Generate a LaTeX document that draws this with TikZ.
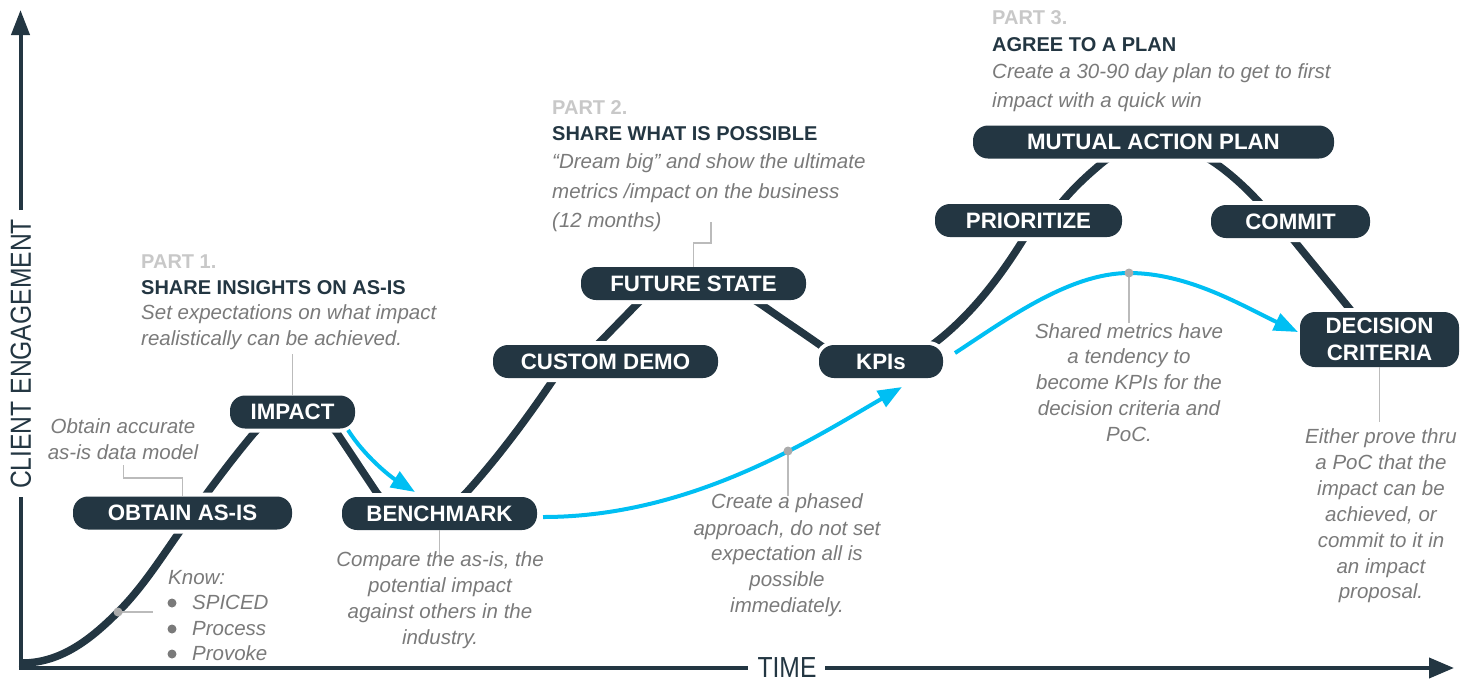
\documentclass[tikz,border=0pt]{standalone}
\usepackage{fontspec}
\setmainfont{Liberation Sans}
\newfontfamily\axisfont[FakeStretch=0.85]{Liberation Sans}
\usetikzlibrary{arrows.meta,backgrounds}

\definecolor{navy}{HTML}{233642}
\definecolor{cyanblue}{HTML}{00BFF3}
\definecolor{notegray}{HTML}{7A7A7A}
\definecolor{partgray}{HTML}{C8C8C8}
\definecolor{leadgray}{HTML}{BBBBBB}
\definecolor{dotgray}{HTML}{ABABAB}

\begin{document}
\begin{tikzpicture}[x=1pt,y=-1pt,
  stage/.style={fill=navy, text=white, font=\fontsize{22.3}{28}\selectfont\bfseries,
    rounded corners=15pt, minimum height=33pt, inner sep=0pt, align=center,
    preaction={draw=white, line width=8pt}},
  note/.style={font=\fontsize{20.5}{26}\selectfont\itshape, text=notegray, inner sep=0pt, anchor=base},
  notew/.style={note, anchor=base west},
  head/.style={font=\fontsize{20}{24}\selectfont\bfseries, text=navy, inner sep=0pt, anchor=base west},
  part/.style={head, text=partgray},
  axislabel/.style={font=\axisfont\fontsize{29}{30}\selectfont, text=navy, inner sep=0pt},
  leader/.style={draw=leadgray, line width=1.8pt},
  curve/.style={draw=navy, line width=7.5pt},
  flow/.style={draw=cyanblue, line width=4pt, -{Triangle[length=24pt,width=18pt]}},
  axis/.style={draw=navy, line width=4pt},
  dot/.style={fill=dotgray},
]
\useasboundingbox (0,0) rectangle (1473,681);

% ---------- axes ----------
\node[axislabel, rotate=90] (ylab) at (21,354) {CLIENT ENGAGEMENT};
\node[axislabel] (xlab) at (787,667.5) {TIME};
\coordinate (orig) at (20.5,668);
\coordinate (ytop) at (20.5,10);
\coordinate (xend) at (1454,668);
\draw[axis] (orig) -- (20.5,497);
\draw[axis, -{Triangle[length=25pt,width=18pt]}] (20.5,210) -- (ytop);
\draw[axis] (18.5,668) -- (748,668);
\draw[axis, -{Triangle[length=25pt,width=20pt]}] (825,668) -- (xend);

% ---------- stages ----------
\node[stage, minimum width=219pt] (obtain)   at (182.5,513)   {OBTAIN AS-IS};
\node[stage, minimum width=125pt] (impact)   at (292.5,412)   {IMPACT};
\node[stage, minimum width=195pt] (bench)    at (439.5,513.5) {BENCHMARK};
\node[stage, minimum width=225pt] (custom)   at (605.5,361.5) {CUSTOM DEMO};
\node[stage, minimum width=225pt] (future)   at (693.5,283.5) {FUTURE STATE};
\node[stage, minimum width=124pt] (kpis)     at (881,361.5)   {KPIs};
\node[stage, minimum width=187pt] (prior)    at (1028.5,220.5){PRIORITIZE};
\node[stage, minimum width=361pt] (mutual)   at (1153.5,142)  {MUTUAL ACTION PLAN};
\node[stage, minimum width=159pt] (commit)   at (1290.5,221.5){COMMIT};
\node[stage, minimum width=159pt, minimum height=55pt] (decision) at (1379.5,339.5) {DECISION\\[-1pt]CRITERIA};

% ---------- engagement curve (behind the stages) ----------
\coordinate (k0) at (22,663);
\coordinate (k1) at (118,612);
\coordinate (k2) at (178,534);
\coordinate (k4) at (254,433);
\coordinate (k5) at (337,433);
\coordinate (k6) at (377,493);
\coordinate (k7) at (466,493);
\coordinate (k8) at (553,380);
\coordinate (k9) at (601,341);
\coordinate (k10) at (637,304);
\coordinate (k11) at (762,305);
\coordinate (k12) at (820,345);
\coordinate (k13) at (936,342);
\coordinate (k14) at (1023,240);
\coordinate (k15) at (1062,202);
\coordinate (k16) at (1102,163);
\coordinate (k17) at (1215,163);
\coordinate (k18) at (1258,201);
\coordinate (k19) at (1296,243);
\coordinate (k20) at (1349,308);
\coordinate (k21) at (1375,340);
\begin{scope}[on background layer]
\draw[curve] (k0) .. controls +(40,0) and +(-25.5,25.5) .. (k1)
  .. controls +(23.3,-23.3) and +(-18.9,27) .. (k2)
  .. controls +(24,-34.4) and +(-27,32.2) .. (k4)
  .. controls +(19.3,-23) and +(-16.8,-24.9) .. (k5)
  .. controls +(13.4,19.9) and +(-13.4,-19.9) .. (k6)
  .. controls +(16.8,24.9) and +(-20.1,22.3) .. (k7)
  .. controls +(31.4,-34.9) and +(-26.3,39) .. (k8)
  .. controls +(11.2,-16.6) and +(-13.9,14.4) .. (k9)
  .. controls +(11.8,-12.2) and +(-11.8,12.2) .. (k10)
  .. controls +(29.2,-30.2) and +(-34.4,-24.1) .. (k11)
  .. controls +(19.2,13.5) and +(-19.2,-13.5) .. (k12)
  .. controls +(31.9,22.4) and +(-30.7,24) .. (k13)
  .. controls +(35.5,-27.7) and +(-23.8,38.2) .. (k14)
  .. controls +(9.5,-15.3) and +(-11.6,13.8) .. (k15)
  .. controls +(12.2,-14.6) and +(-14.6,12.2) .. (k16)
  .. controls +(29.1,-24.4) and +(-31.1,-21.8) .. (k17)
  .. controls +(15.6,10.9) and +(-13,-13.9) .. (k18)
  .. controls +(13,13.9) and +(-12,-14.8) .. (k19)
  .. controls +(17.6,21.8) and +(-17.6,-21.8) .. (k20)
  -- (k21);
\end{scope}

% ---------- blue flows ----------
\coordinate (f1s) at (348,430);
\coordinate (f1e) at (415,492);
\coordinate (f2s) at (543,517);
\coordinate (f2m) at (788,451);
\coordinate (f2e) at (902,387);
\coordinate (f3s) at (955,353);
\coordinate (f3m) at (1129,273);
\coordinate (f3e) at (1298,332);
\draw[flow] (f1s) .. controls +(15.9,25.4) and +(-25.4,-15.9) .. (f1e);
\draw[flow] (f2s) .. controls +(150,0) and +(-86.6,50) .. (f2e);
\draw[flow] (f3s) .. controls +(50.3,-32.7) and +(-60,0) .. (f3m)
  .. controls +(60,0) and +(-54.4,-25.4) .. (f3e);

% ---------- leaders and dots ----------
\draw[leader] (impact.north) -- ++(0,-41);
\draw[leader] (obtain.north) -- ++(0,-18) -- ++(-59,0) -- ++(0,-13);
\draw[leader] (k1) -- ++(35,0);
\draw[leader] (bench.south) -- ++(0,32);
\draw[leader] (future.north) -- ++(0,-24) -- ++(17.5,0) -- ++(0,-21);
\draw[leader] (f2m) -- ++(0,45);
\draw[leader] (f3m) -- ++(0,50);
\draw[leader] (decision.south) -- ++(0,55);
\fill[dot] (k1) circle[radius=4.5pt];
\fill[dot] (f2m) circle[radius=4.5pt];
\fill[dot] (f3m) circle[radius=4.5pt];

% ---------- part 1 ----------
\node[part] (p1a) at (141,268) {PART 1.};
\node[head] (p1b) at (141,294) {SHARE INSIGHTS ON AS-IS};
\node[notew] (p1c) at (141,319) {Set expectations on what impact};
\node[notew] (p1d) at (141,345) {realistically can be achieved.};

\node[note] (oa1) at (123,433) {Obtain accurate};
\node[note] (oa2) at (123,459) {as-is data model};

\node[notew] (kn0) at (168,584) {Know:};
\node[notew] (kn1) at (192,609) {SPICED};
\node[notew] (kn2) at (192,635) {Process};
\node[notew] (kn3) at (192,660) {Provoke};
\fill[notegray] (172,603) circle[radius=4.5pt];
\fill[notegray] (172,629) circle[radius=4.5pt];
\fill[notegray] (172,654) circle[radius=4.5pt];

\node[note] (cp1) at (440,566) {Compare the as-is, the};
\node[note] (cp2) at (440,592) {potential impact};
\node[note] (cp3) at (440,618) {against others in the};
\node[note] (cp4) at (440,644) {industry.};

% ---------- part 2 ----------
\node[part] (p2a) at (552,114) {PART 2.};
\node[head] (p2b) at (552,140) {SHARE WHAT IS POSSIBLE};
\node[notew] (p2c) at (552,168) {“Dream big” and show the ultimate};
\node[notew] (p2d) at (552,198) {metrics /impact on the business};
\node[notew] (p2e) at (552,227) {(12 months)};

\node[note] (ph1) at (787,508) {Create a phased};
\node[note] (ph2) at (787,535) {approach, do not set};
\node[note] (ph3) at (787,560) {expectation all is};
\node[note] (ph4) at (787,586) {possible};
\node[note] (ph5) at (787,612) {immediately.};

% ---------- part 3 ----------
\node[part] (p3a) at (992,24) {PART 3.};
\node[head] (p3b) at (992,51) {AGREE TO A PLAN};
\node[notew] (p3c) at (992,78) {Create a 30-90 day plan to get to first};
\node[notew] (p3d) at (992,107) {impact with a quick win};

\node[note] (sm1) at (1129,338) {Shared metrics have};
\node[note] (sm2) at (1129,363) {a tendency to};
\node[note] (sm3) at (1129,389) {become KPIs for the};
\node[note] (sm4) at (1129,415) {decision criteria and};
\node[note] (sm5) at (1129,441) {PoC.};

\node[note] (ep1) at (1381,443) {Either prove thru};
\node[note] (ep2) at (1381,469) {a PoC that the};
\node[note] (ep3) at (1381,495) {impact can be};
\node[note] (ep4) at (1381,521) {achieved, or};
\node[note] (ep5) at (1381,547) {commit to it in};
\node[note] (ep6) at (1381,573) {an impact};
\node[note] (ep7) at (1381,598) {proposal.};
\end{tikzpicture}
\end{document}
